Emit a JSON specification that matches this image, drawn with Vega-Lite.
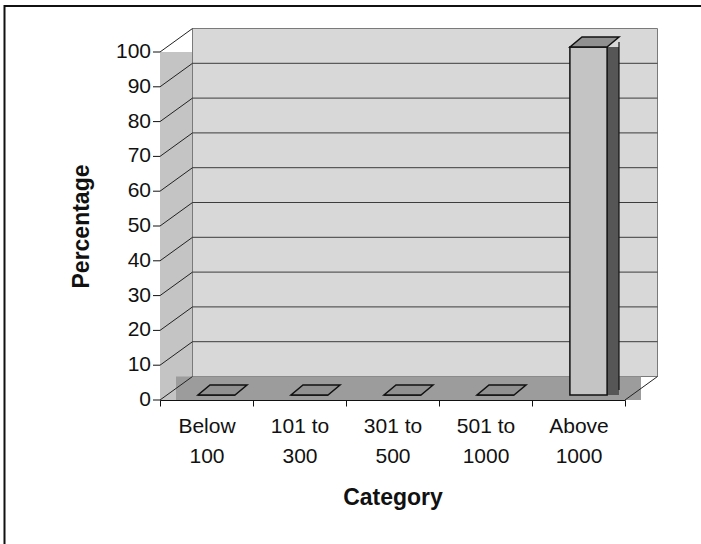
{
  "$schema": "https://vega.github.io/schema/vega-lite/v6.json",
  "width": 465,
  "height": 348,
  "autosize": "none",
  "padding": {"left": 160, "top": 52, "right": 76, "bottom": 144},
  "background": "white",
  "config": {
    "font": "Liberation Sans",
    "view": {"stroke": null},
    "axis": {"labelOverlap": false}
  },
  "datasets": {
    "shares": [
      {"category": "Below 100", "percentage": 0},
      {"category": "101 to 300", "percentage": 0},
      {"category": "301 to 500", "percentage": 0},
      {"category": "501 to 1000", "percentage": 0},
      {"category": "Above 1000", "percentage": 100}
    ],
    "ticks": [
      {"tick": 0}, {"tick": 10}, {"tick": 20}, {"tick": 30}, {"tick": 40}, {"tick": 50},
      {"tick": 60}, {"tick": 70}, {"tick": 80}, {"tick": 90}, {"tick": 100}
    ],
    "grid": [
      {"tick": 10}, {"tick": 20}, {"tick": 30}, {"tick": 40}, {"tick": 50},
      {"tick": 60}, {"tick": 70}, {"tick": 80}, {"tick": 90}
    ],
    "single": [{}]
  },
  "layer": [
    {
      "data": {"name": "single"},
      "mark": {"type": "rect", "fillOpacity": 0, "stroke": "#111111", "strokeWidth": 2,
               "xOffset": -155.5, "x2Offset": 174, "yOffset": 146, "y2Offset": -46},
      "encoding": {
        "x": {
          "datum": "Below 100", "type": "nominal", "bandPosition": 0,
          "scale": {"domain": ["Below 100", "101 to 300", "301 to 500", "501 to 1000", "Above 1000"],
                    "paddingInner": 0, "paddingOuter": 0},
          "axis": {
            "title": "Category", "titleFontSize": 23, "titleFontWeight": "bold", "titleColor": "#111111",
            "titleY": 104, "titleBaseline": "alphabetic",
            "labelAngle": 0, "labelAlign": "center", "labelFontSize": 21, "labelColor": "#111111",
            "labelLineHeight": 30, "labelBaseline": "alphabetic", "labelPadding": 26,
            "labelOverlap": false,
            "labelExpr": "[slice(datum.label, 0, lastindexof(datum.label, ' ')), slice(datum.label, lastindexof(datum.label, ' ') + 1)]",
            "tickBand": "extent", "tickSize": 6, "tickColor": "#111111",
            "domainColor": "#111111", "grid": false
          }
        },
        "x2": {"datum": "Above 1000", "bandPosition": 0},
        "y": {
          "datum": 0, "type": "quantitative",
          "scale": {"domain": [0, 100], "nice": false},
          "axis": {
            "title": "Percentage", "titleFontSize": 23, "titleFontWeight": "bold", "titleColor": "#111111",
            "titleX": -79, "titleY": 174, "titleAlign": "center", "titleBaseline": "middle",
            "labels": false, "ticks": false,
            "domainColor": "#111111", "grid": false
          }
        },
        "y2": {"datum": 100}
      }
    },
    {
      "data": {"name": "single"},
      "mark": {"type": "rect", "fill": "#c4c4c4", "x2Offset": 93},
      "encoding": {
        "x": {"datum": "Below 100", "type": "nominal", "bandPosition": 0},
        "x2": {"datum": "Above 1000", "bandPosition": 0},
        "y": {"datum": 0, "type": "quantitative"},
        "y2": {"datum": 100}
      }
    },
    {
      "data": {"name": "single"},
      "mark": {"type": "rect", "fill": "#d8d8d8", "stroke": "#7a7a7a", "strokeWidth": 1,
               "xOffset": 32.5, "x2Offset": 125.5, "yOffset": -23.5, "y2Offset": -23.5},
      "encoding": {
        "x": {"datum": "Below 100", "type": "nominal", "bandPosition": 0},
        "x2": {"datum": "Above 1000", "bandPosition": 0},
        "y": {"datum": 0, "type": "quantitative"},
        "y2": {"datum": 100}
      }
    },
    {
      "data": {"name": "grid"},
      "mark": {"type": "rule", "color": "#3c3c3c", "strokeWidth": 1,
               "xOffset": 32.5, "x2Offset": 125.5, "yOffset": -23.5, "y2Offset": -23.5},
      "encoding": {
        "x": {"datum": "Below 100", "type": "nominal", "bandPosition": 0},
        "x2": {"datum": "Above 1000", "bandPosition": 0},
        "y": {"field": "tick", "type": "quantitative"},
        "y2": {"field": "tick"}
      }
    },
    {
      "data": {"name": "single"},
      "mark": {"type": "rect", "fill": "#9c9c9c",
               "xOffset": 16, "x2Offset": 109, "yOffset": -23.5},
      "encoding": {
        "x": {"datum": "Below 100", "type": "nominal", "bandPosition": 0},
        "x2": {"datum": "Above 1000", "bandPosition": 0},
        "y": {"datum": 0, "type": "quantitative"},
        "y2": {"datum": 0}
      }
    },
    {
      "data": {"name": "ticks"},
      "mark": {"type": "rule", "color": "#222222", "strokeWidth": 1, "x2Offset": 32.5, "y2Offset": -23.5},
      "encoding": {
        "x": {"datum": "Below 100", "type": "nominal", "bandPosition": 0},
        "x2": {"datum": "Below 100", "bandPosition": 0},
        "y": {"field": "tick", "type": "quantitative"},
        "y2": {"field": "tick"}
      }
    },
    {
      "data": {"name": "ticks"},
      "mark": {"type": "rule", "color": "#111111", "strokeWidth": 1, "xOffset": -7},
      "encoding": {
        "x": {"datum": "Below 100", "type": "nominal", "bandPosition": 0},
        "x2": {"datum": "Below 100", "bandPosition": 0},
        "y": {"field": "tick", "type": "quantitative"},
        "y2": {"field": "tick"}
      }
    },
    {
      "data": {"name": "ticks"},
      "mark": {"type": "text", "align": "right", "baseline": "middle", "fontSize": 21,
               "color": "#111111", "xOffset": -9},
      "encoding": {
        "x": {"datum": "Below 100", "type": "nominal", "bandPosition": 0},
        "y": {"field": "tick", "type": "quantitative"},
        "text": {"field": "tick", "type": "quantitative"}
      }
    },
    {
      "data": {"name": "single"},
      "mark": {"type": "rule", "color": "#222222", "strokeWidth": 1, "xOffset": 93, "x2Offset": 125.5, "y2Offset": -23.5},
      "encoding": {
        "x": {"datum": "Above 1000", "type": "nominal", "bandPosition": 0},
        "x2": {"datum": "Above 1000", "bandPosition": 0},
        "y": {"datum": 0, "type": "quantitative"},
        "y2": {"datum": 0}
      }
    },
    {
      "data": {"name": "shares"},
      "mark": {"type": "rule", "color": "#565656", "strokeWidth": 12,
               "xOffset": 34.5, "yOffset": -5, "y2Offset": -5},
      "encoding": {
        "x": {"field": "category", "type": "nominal", "sort": null},
        "y": {"field": "percentage", "type": "quantitative"},
        "y2": {"datum": 0}
      }
    },
    {
      "data": {"name": "shares"},
      "mark": {"type": "bar", "fill": "#c4c4c4", "stroke": "#111111", "strokeWidth": 1.5,
               "width": {"band": 0.4},
               "xOffset": 10, "x2Offset": 10, "yOffset": -5, "y2Offset": -5},
      "encoding": {
        "x": {"field": "category", "type": "nominal", "sort": null},
        "y": {"field": "percentage", "type": "quantitative"},
        "y2": {"datum": 0}
      }
    },
    {
      "data": {"name": "shares"},
      "mark": {"type": "point", "shape": "M -1.85 0 L 1.85 0 L 3.05 -1 L -0.65 -1 Z",
               "size": 400, "filled": true, "opacity": 1, "fill": "#909090",
               "stroke": "#111111", "strokeWidth": 1.5, "xOffset": 10, "yOffset": -5},
      "encoding": {
        "x": {"field": "category", "type": "nominal", "sort": null},
        "y": {"field": "percentage", "type": "quantitative"}
      }
    },
    {
      "data": {"name": "shares"},
      "mark": {"type": "rule", "color": "#111111", "strokeWidth": 1.2,
               "xOffset": 40.5, "yOffset": -10, "y2Offset": -10},
      "encoding": {
        "x": {"field": "category", "type": "nominal", "sort": null},
        "y": {"field": "percentage", "type": "quantitative"},
        "y2": {"datum": 0}
      }
    }
  ]
}
